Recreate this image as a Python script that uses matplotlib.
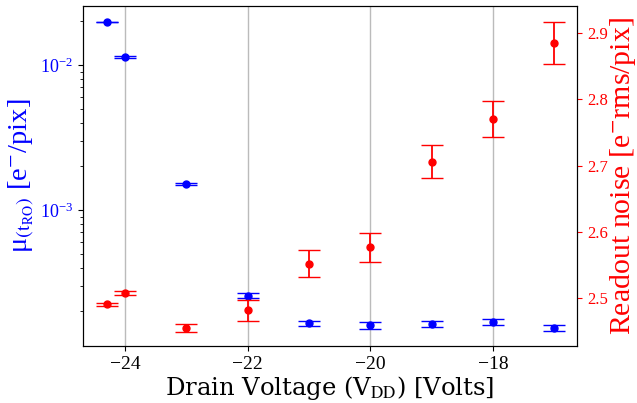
import matplotlib
matplotlib.use("Agg")
import matplotlib.pyplot as plt

plt.rcParams['font.family'] = ['Liberation Serif', 'DejaVu Serif']
plt.rcParams['mathtext.fontset'] = 'stix'

# data
vdd = [-24.3, -24, -23, -22, -21, -20, -19, -18, -17]
mu = [0.0198, 0.01136, 0.00151, 2.56e-4, 1.65e-4, 1.60e-4, 1.64e-4, 1.70e-4, 1.53e-4]
mu_err = [1.5e-4, 1.0e-4, 2.5e-5, 1.0e-5, 7e-6, 8e-6, 7e-6, 8e-6, 7e-6]
noise = [2.4905, 2.508, 2.455, 2.4815, 2.552, 2.577, 2.706, 2.771, 2.885]
noise_err = [0.0025, 0.003, 0.0063, 0.016, 0.0204, 0.022, 0.025, 0.027, 0.032]

fig, ax = plt.subplots(figsize=(6.37, 4.03), dpi=100)
fig.subplots_adjust(left=0.130, right=0.906, top=0.985, bottom=0.141)

ax.errorbar(vdd, mu, yerr=mu_err, fmt='o', color='blue', ms=5, capsize=8, elinewidth=1.3)
ax.set_yscale('log')
ax.set_ylim(1.15e-4, 0.0255)
ax.set_xlim(-24.69, -16.63)
ax.set_xticks([-24, -22, -20, -18])
ax.grid(axis='x', color='#bbbbbb', lw=1)
ax.set_axisbelow(True)
ax.set_xlabel(r'Drain Voltage (V$_{\rm DD}$) [Volts]', fontsize=17.5, family='DejaVu Serif',
              labelpad=1)
ax.set_ylabel(r'μ$_{(\mathrm{t}_{\mathrm{RO}})}$ [e$^{-}$/pix]', fontsize=20.5, color='blue', labelpad=2)
ax.tick_params(axis='y', which='both', labelcolor='blue', labelsize=13)
ax.tick_params(axis='x', labelsize=14)

ax2 = ax.twinx()
ax2.errorbar(vdd, noise, yerr=noise_err, fmt='o', color='red', ms=5, capsize=8, elinewidth=1.3)
ax2.set_ylim(2.4275, 2.941)
ax2.set_yticks([2.5, 2.6, 2.7, 2.8, 2.9])
ax2.set_ylabel(r'Readout noise [e$^{-}$rms/pix]', fontsize=21.5, color='red', labelpad=0)
ax2.tick_params(axis='y', colors='red', labelsize=12)

plt.savefig("out.png", dpi=100)
